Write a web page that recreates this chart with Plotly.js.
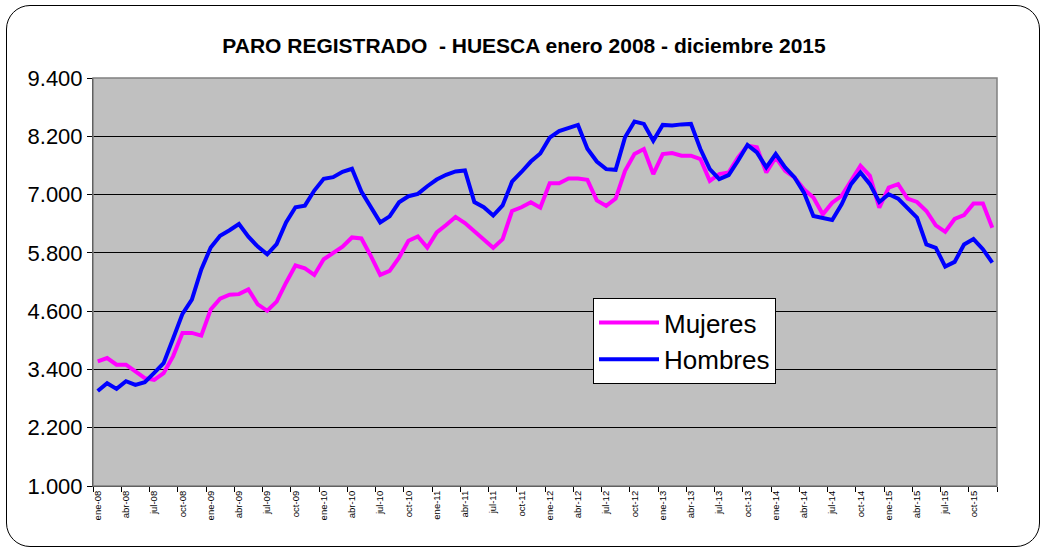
<!DOCTYPE html>
<html>
<head>
<meta charset="utf-8">
<script src="https://cdn.plot.ly/plotly-3.0.1.min.js"></script>
<style>
html,body{margin:0;padding:0;background:#fff;}
#wrap{position:relative;width:1048px;height:552px;}
#chart{position:absolute;left:0;top:0;width:1048px;height:552px;}
#frame{position:absolute;left:6px;top:5px;width:1032px;height:540px;border:1.5px solid #000;border-radius:24px;pointer-events:none;}
</style>
</head>
<body>
<div id="wrap"><div id="chart"></div><div id="frame"></div></div>
<script>
// Tick label parts
var months = ['ene','feb','mar','abr','may','jun','jul','ago','sep','oct','nov','dic'];
var years = ['08','09','10','11','12','13','14','15'];

// Mujeres (paro registrado), ene-08 .. dic-15
var mujeres = [
 3566,3635,3497,3497,3359,3221,3186,3324,3669,4152,4152,4097,
 4634,4855,4938,4950,5048,4738,4607,4797,5186,5540,5480,5345,
 5669,5807,5925,6117,6097,5738,5345,5428,5703,6048,6138,5910,
 6221,6372,6540,6414,6240,6050,5903,6083,6662,6738,6841,6731,
 7234,7234,7331,7331,7303,6880,6766,6917,7490,7834,7938,7421,
 7834,7855,7800,7800,7731,7283,7421,7455,7765,8007,7972,7455,
 7765,7490,7352,7110,6938,6593,6834,6972,7283,7593,7386,6731,
 7145,7214,6917,6848,6662,6366,6234,6497,6579,6814,6814,6317
];

// Hombres (paro registrado), ene-08 .. dic-15
var hombres = [
 2955,3117,3000,3158,3080,3138,3330,3530,4030,4545,4837,5460,
 5910,6152,6265,6393,6135,5928,5770,5979,6428,6738,6772,7083,
 7324,7359,7470,7531,7062,6738,6428,6552,6841,6966,7014,7172,
 7310,7407,7476,7497,6845,6740,6569,6776,7265,7465,7680,7845,
 8172,8307,8380,8434,7945,7680,7524,7510,8179,8503,8455,8110,
 8434,8421,8445,8455,7938,7524,7317,7400,7697,8021,7869,7559,
 7834,7559,7352,7041,6559,6510,6476,6800,7214,7455,7214,6848,
 7007,6917,6731,6524,5972,5903,5517,5614,5972,6083,5876,5600
];

var yTicks = [1000,2200,3400,4600,5800,7000,8200,9400];

var categories = [];
years.forEach(function(y){ months.forEach(function(m){ categories.push(m + '-' + y); }); });

var FONT = 'Liberation Sans, Arial, sans-serif';

var traces = [
  {x: categories, y: mujeres, name: 'Mujeres', type: 'scatter', mode: 'lines',
   line: {color: '#FF00FF', width: 4}},
  {x: categories, y: hombres, name: 'Hombres', type: 'scatter', mode: 'lines',
   line: {color: '#0000FF', width: 4}}
];

var layout = {
  width: 1048, height: 552,
  margin: {l: 93, r: 51, t: 78, b: 66},
  paper_bgcolor: '#ffffff',
  plot_bgcolor: '#C0C0C0',
  separators: ',.',
  font: {family: FONT, color: '#000'},
  title: {text: '<b>PARO REGISTRADO  - HUESCA enero 2008 - diciembre 2015</b>',
          font: {family: FONT, size: 21, color: '#000'},
          x: 0.5, xref: 'container', xanchor: 'center',
          y: 1 - 46/552, yref: 'container', yanchor: 'middle'},
  xaxis: {type: 'category', tickmode: 'linear', dtick: 3, tick0: 0,
          tickson: 'boundaries', ticks: 'outside', ticklen: 5, tickcolor: '#000',
          tickangle: -90, tickfont: {family: FONT, size: 9.5, color: '#000'},
          showgrid: false, showline: true, linecolor: '#000', linewidth: 1,
          range: [-0.5, 95.5], zeroline: false, fixedrange: true},
  yaxis: {range: [1000, 9400], tickmode: 'array', tickvals: yTicks,
          tickformat: ',d', ticks: 'outside', ticklen: 5, tickcolor: '#000',
          tickfont: {family: FONT, size: 22, color: '#000'},
          showgrid: true, gridcolor: '#000', gridwidth: 1,
          showline: true, linecolor: '#000', linewidth: 1, zeroline: false,
          fixedrange: true},
  showlegend: true,
  legend: {x: (593-93)/904, y: (486-298)/408, xanchor: 'left', yanchor: 'top',
           bgcolor: '#ffffff', bordercolor: '#000', borderwidth: 1,
           font: {family: FONT, size: 26, color: '#000'},
           itemwidth: 60, traceorder: 'normal'},
  shapes: [{type: 'rect', xref: 'paper', yref: 'paper', x0: 0, x1: 1, y0: 0, y1: 1,
            line: {color: '#808080', width: 1.5}, fillcolor: 'rgba(0,0,0,0)', layer: 'above'}]
};

Plotly.newPlot('chart', traces, layout, {displayModeBar: false, staticPlot: true});
</script>
</body>
</html>
